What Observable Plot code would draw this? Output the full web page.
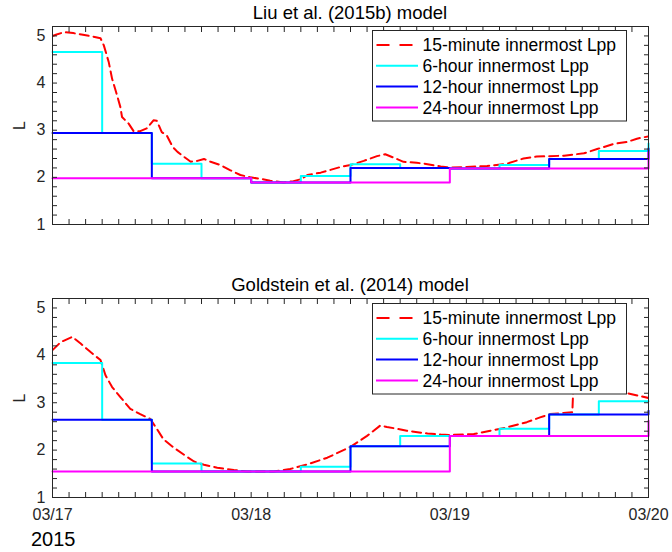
<!DOCTYPE html>
<html>
<head>
<meta charset="utf-8">
<script src="https://cdn.jsdelivr.net/npm/d3@7"></script>
<script src="https://cdn.jsdelivr.net/npm/@observablehq/plot@0.6"></script>
<style>
  body { margin: 0; background: #fff; }
  #chart { position: relative; width: 672px; height: 552px; overflow: hidden;
           font-family: "Liberation Sans", Arial, Helvetica, sans-serif; color: #262626; }
  .panel { position: absolute; left: 0; }
  .title { position: absolute; left: 52px; width: 596px; text-align: center;
           font-size: 18.5px; line-height: 1; color: #000; white-space: nowrap; }
  .year { position: absolute; left: 31px; font-size: 20px; line-height: 1; color: #000; }
</style>
</head>
<body>
<div id="chart"></div>
<script>
// Time axis: 03/17 00:00 UT to 03/20 00:00 UT, 2015
const startMs = Date.UTC(2015, 2, 17);
const endMs = Date.UTC(2015, 2, 20);

// Series styling / legend entries
const seriesNames = ["15-minute innermost Lpp", "6-hour innermost Lpp", "12-hour innermost Lpp", "24-hour innermost Lpp"];
const seriesColors = ["#ff0000", "#00ffff", "#0000ff", "#ff00ff"];

// Liu et al. (2015b) model — 15-minute innermost Lpp (hours since 03/17 00:00, L)
const liuFineHours = [0, 0.5, 1.4, 2.5, 3.5, 4.5, 5.8, 6.2, 6.8, 7.2, 7.8, 8.2, 8.4, 9.2, 9.8, 10.6, 11.4, 12.2, 12.6, 13.2,
  13.8, 14.5, 15.1, 16.7, 17.5, 18.3, 19.1, 20.3, 21.5, 22.7, 23.9, 25.1, 26.3, 27.9, 29.1, 30.0, 30.8, 32.4, 33.4, 34.8,
  36, 37.6, 39.2, 40.2, 41.6, 42.4, 44, 45.3, 46.9, 48.1, 50, 52.5, 54.9, 56.9, 58.5, 61.8, 64.2, 65.8, 67.8, 69.4, 70.6, 72];
const liuFineL = [5.0, 5.03, 5.08, 5.06, 5.03, 5.0, 4.95, 4.8, 4.44, 4.09, 3.74, 3.49, 3.28, 3.14, 2.98, 2.98, 3.04, 3.21, 3.2, 2.96,
  2.89, 2.65, 2.54, 2.33, 2.35, 2.39, 2.33, 2.26, 2.15, 2.05, 2.0, 1.97, 1.93, 1.89, 1.92, 1.96, 2.05, 2.1, 2.15, 2.22,
  2.26, 2.35, 2.45, 2.49, 2.39, 2.33, 2.31, 2.28, 2.23, 2.21, 2.22, 2.24, 2.29, 2.4, 2.44, 2.46, 2.51, 2.6, 2.71, 2.75, 2.82, 2.87];
// Binned innermost Lpp (one value per bin, last value at 03/20 00:00)
const liu6h = [4.66, 2.94, 2.29, 1.98, 1.89, 2.03, 2.28, 2.2, 2.19, 2.26, 2.39, 2.56, 2.72];
const liu12h = [2.94, 1.98, 1.89, 2.2, 2.19, 2.39, 2.61];
const liu24h = [1.98, 1.89, 2.19, 2.54];

// Goldstein et al. (2014) model — 15-minute innermost Lpp
const goldFineHours = [0, 1, 2.4, 3.4, 4.6, 5.8, 6.4, 7.2, 8.2, 9.4, 10.6, 11.8, 12.6, 13.4, 14.6, 15.9, 17.1, 18.3, 19.9, 21.9,
  23.5, 26.7, 28.7, 30.8, 33.2, 36, 38, 39.6, 40.4, 42.8, 45.3, 46.9, 48.1, 50.9, 52.9, 54.9, 57.3, 58.9, 60.1, 62.8,
  63.0, 64, 66, 68, 69.5, 71, 72];
const goldFineL = [4.11, 4.28, 4.39, 4.25, 4.07, 3.9, 3.58, 3.33, 3.12, 2.87, 2.76, 2.66, 2.45, 2.23, 2.06, 1.9, 1.76, 1.69, 1.63, 1.58,
  1.55, 1.55, 1.6, 1.7, 1.84, 2.07, 2.3, 2.52, 2.49, 2.41, 2.35, 2.33, 2.32, 2.34, 2.41, 2.48, 2.59, 2.69, 2.76, 2.8,
  3.7, 3.55, 3.4, 3.28, 3.2, 3.14, 3.1];
const gold6h = [3.84, 2.64, 1.72, 1.55, 1.55, 1.65, 2.08, 2.3, 2.3, 2.45, 2.75, 3.03, 3.03];
const gold12h = [2.64, 1.55, 1.55, 2.08, 2.3, 2.75, 2.83];
const gold24h = [1.55, 1.55, 2.3, 2.62];

// Axis ticks
const yTickValues = d3.range(5, 26).map(i => i / 5);          // 1.0 … 5.0 every 0.2
const yTickLabels = [1, 2, 3, 4, 5];
const xTickValues = d3.utcHour.every(2).range(new Date(startMs), new Date(endMs + 1));
const dayFormat = d3.utcFormat("%m/%d");

const toDate = h => new Date(startMs + h * 3600e3);
const fineRows = (hours, vals) => hours.map((h, i) => ({t: toDate(h), L: vals[i]}));
const stepRows = (vals, binHours) => vals.map((v, i) => ({t: toDate(i * binHours), L: v}));

function panel({fineHours, fineL, six, twelve, day, showDates, height, marginBottom}) {
  const blank = () => "";
  return Plot.plot({
    width: 672,
    height,
    marginLeft: 52,
    marginRight: 24,
    marginTop: 26,
    marginBottom,
    style: {fontFamily: '"Liberation Sans", Arial, Helvetica, sans-serif', fontSize: "16px", color: "#262626", background: "transparent", overflow: "visible"},
    x: {type: "utc", domain: [new Date(startMs), new Date(endMs)]},
    y: {domain: [1, 5.2]},
    marks: [
      Plot.line(fineRows(fineHours, fineL), {x: "t", y: "L", stroke: seriesColors[0], strokeWidth: 2, strokeDasharray: "9,5", clip: true}),
      Plot.line(stepRows(six, 6), {x: "t", y: "L", curve: "step-after", stroke: seriesColors[1], strokeWidth: 2}),
      Plot.line(stepRows(twelve, 12), {x: "t", y: "L", curve: "step-after", stroke: seriesColors[2], strokeWidth: 2}),
      Plot.line(stepRows(day, 24), {x: "t", y: "L", curve: "step-after", stroke: seriesColors[3], strokeWidth: 2}),
      Plot.frame({stroke: "#262626"}),
      Plot.axisY(yTickValues, {anchor: "left", tickSize: -5, tickPadding: 12,
        tickFormat: d => (yTickLabels.includes(d) ? String(d) : ""),
        label: "L", labelAnchor: "center", labelArrow: "none", labelOffset: 39}),
      Plot.axisY(yTickValues, {anchor: "right", tickSize: -5, tickFormat: blank, label: null}),
      Plot.axisX(xTickValues, {anchor: "bottom", tickSize: -5, tickPadding: 16,
        tickFormat: showDates ? (d => (d.getUTCHours() === 0 ? dayFormat(d) : "")) : blank, label: null}),
      Plot.axisX(xTickValues, {anchor: "top", tickSize: -5, tickFormat: blank, label: null})
    ]
  });
}

function legendBox(top) {
  const svg = d3.create("svg")
    .attr("width", 256).attr("height", 92)
    .style("position", "absolute").style("left", "372px").style("top", top + "px")
    .style("font-family", '"Liberation Sans", Arial, Helvetica, sans-serif');
  svg.append("rect").attr("x", 0.5).attr("y", 0.5).attr("width", 254).attr("height", 90.5)
    .attr("fill", "#fff").attr("stroke", "#262626").attr("stroke-width", 1);
  seriesNames.forEach((name, i) => {
    const cy = 15 + i * 20.8;
    svg.append("line").attr("x1", i === 0 ? 4.5 : 4).attr("x2", i === 0 ? 41 : 46).attr("y1", cy).attr("y2", cy)
      .attr("stroke", seriesColors[i]).attr("stroke-width", 2)
      .attr("stroke-dasharray", i === 0 ? "13,10" : null);
    svg.append("text").attr("x", 50.5).attr("y", cy + 6.3).attr("font-size", 17.5).attr("fill", "#000").text(name);
  });
  return svg.node();
}

const chart = document.getElementById("chart");

function place(node, top) {
  node.classList.add("panel");
  node.style.top = top + "px";
  chart.appendChild(node);
}

function addText(cls, text, top) {
  const div = document.createElement("div");
  div.className = cls;
  div.style.top = top + "px";
  div.textContent = text;
  chart.appendChild(div);
}

place(panel({fineHours: liuFineHours, fineL: liuFineL, six: liu6h, twelve: liu12h, day: liu24h,
  showDates: false, height: 240, marginBottom: 16}), 0);
place(panel({fineHours: goldFineHours, fineL: goldFineL, six: gold6h, twelve: gold12h, day: gold24h,
  showDates: true, height: 280, marginBottom: 55}), 272);

chart.appendChild(legendBox(30));
chart.appendChild(legendBox(302.5));

addText("title", "Liu et al. (2015b) model", 3.8);
addText("title", "Goldstein et al. (2014) model", 276);
addText("year", "2015", 529.3);
</script>
</body>
</html>
